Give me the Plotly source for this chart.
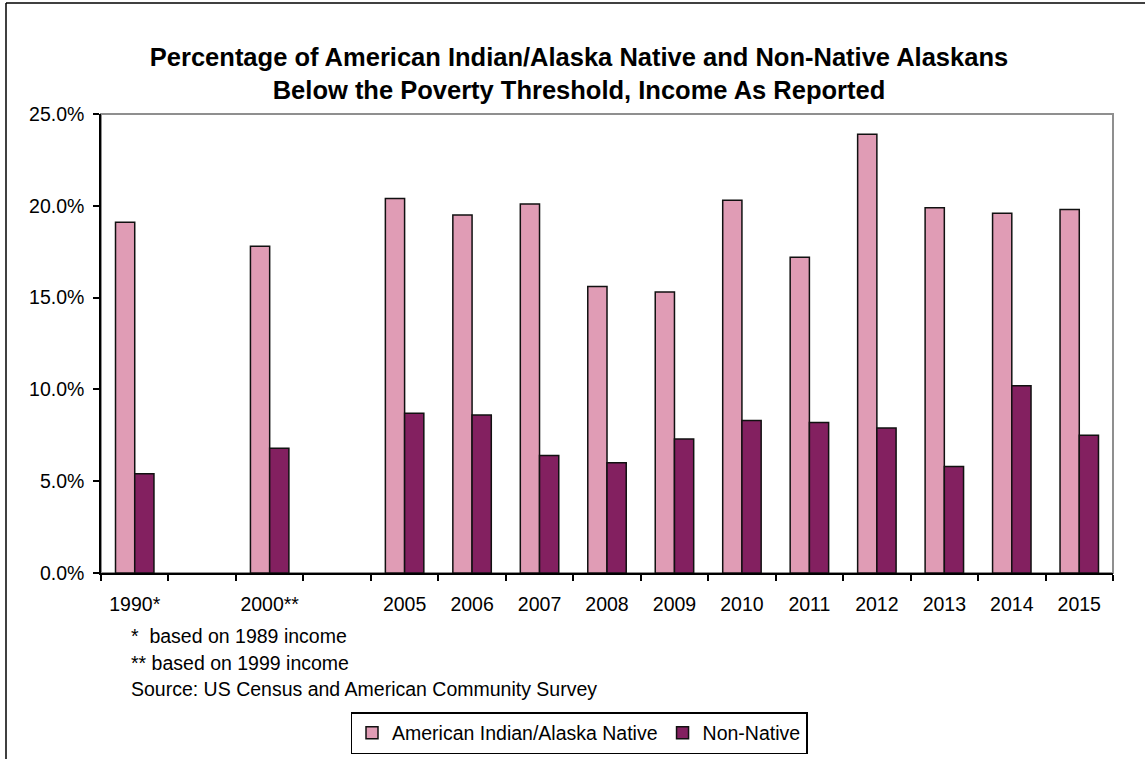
import plotly.graph_objects as go

# Category slots along the x axis (two empty slots separate the census years)
categories = ["1990*", "gap_a", "2000**", "gap_b", "2005", "2006", "2007", "2008",
              "2009", "2010", "2011", "2012", "2013", "2014", "2015"]
tick_labels = ["1990*", "", "2000**", "", "2005", "2006", "2007", "2008",
               "2009", "2010", "2011", "2012", "2013", "2014", "2015"]

# Percent below the poverty threshold
native = [19.1, None, 17.8, None, 20.4, 19.5, 20.1, 15.6, 15.3, 20.3, 17.2, 23.9, 19.9, 19.6, 19.8]
non_native = [5.4, None, 6.8, None, 8.7, 8.6, 6.4, 6.0, 7.3, 8.3, 8.2, 7.9, 5.8, 10.2, 7.5]

series_names = ["American Indian/Alaska Native", "Non-Native"]
series_colors = ["#E09CB5", "#832060"]

title_lines = ["Percentage of American Indian/Alaska Native and Non-Native Alaskans",
               "Below the Poverty Threshold, Income As Reported"]
footnotes = ["*\u00a0\u00a0based on 1989 income",
             "** based on 1999 income",
             "Source: US Census and American Community Survey"]

W, H = 1145, 759
L, R, T, B = 101, 32, 114, 186
PW, PH = W - L - R, H - T - B
FONT = "Liberation Sans, Arial, sans-serif"
FS = 19.5


def px_x(x):
    return (x - L) / PW


def px_y(y):
    return (H - B - y) / PH


fig = go.Figure()
for name, vals, col in zip(series_names, [native, non_native], series_colors):
    fig.add_trace(go.Bar(
        x=categories, y=vals, name=name,
        marker=dict(color=col, line=dict(color="#111111", width=1.5)),
    ))

annotations = []
for text, yp in zip(footnotes, [636, 663, 689]):
    annotations.append(dict(
        text=text, xref="paper", yref="paper", x=px_x(129), y=px_y(yp),
        xanchor="left", yanchor="middle", showarrow=False,
        font=dict(size=FS, color="black", family=FONT),
    ))

shapes = [
    # plot area frame (grey top/right)
    dict(type="rect", xref="paper", yref="paper", x0=0, x1=1, y0=0, y1=1,
         line=dict(color="#8f8f8f", width=2), layer="below"),
    # outer chart frame, top and left edges
    dict(type="line", xref="paper", yref="paper", x0=px_x(6), x1=px_x(W),
         y0=px_y(3), y1=px_y(3), line=dict(color="black", width=1.5)),
    dict(type="line", xref="paper", yref="paper", x0=px_x(6), x1=px_x(6),
         y0=px_y(3), y1=px_y(H), line=dict(color="black", width=1.5)),
]

fig.update_layout(
    width=W, height=H,
    margin=dict(l=L, r=R, t=T, b=B, pad=0, autoexpand=False),
    paper_bgcolor="white", plot_bgcolor="white",
    font=dict(family=FONT, size=FS, color="black"),
    title=dict(
        text="<b>" + "<br>".join(title_lines) + "</b>",
        x=579 / W, xref="container", xanchor="center",
        y=1 - 66 / H, yref="container", yanchor="top",
        font=dict(size=25.5, family=FONT, color="black"),
    ),
    barmode="group", bargap=0.43, bargroupgap=0,
    showlegend=True,
    legend=dict(
        orientation="h", xref="container", yref="container",
        x=579 / W, xanchor="center", y=1 - 712 / H, yanchor="top",
        bordercolor="black", borderwidth=1.5, bgcolor="white",
        font=dict(size=FS, family=FONT, color="black"),
        traceorder="normal",
    ),
    xaxis=dict(
        type="category", categoryorder="array", categoryarray=categories,
        tickmode="array", tickvals=categories, ticktext=tick_labels, tickangle=0,
        tickson="boundaries", ticks="outside", ticklen=6, tickwidth=1.5, tickcolor="black",
        ticklabelstandoff=13,
        showline=True, linecolor="black", linewidth=1.5, showgrid=False, zeroline=False,
        tickfont=dict(size=FS), fixedrange=True, automargin=False,
    ),
    yaxis=dict(
        range=[0, 25], tick0=0, dtick=5, tickformat=".1f", ticksuffix="%",
        ticks="outside", ticklen=6, tickwidth=1.5, tickcolor="black",
        ticklabelstandoff=5,
        showline=True, linecolor="black", linewidth=1.5, showgrid=False, zeroline=False,
        tickfont=dict(size=FS), fixedrange=True, automargin=False,
    ),
    annotations=annotations,
    shapes=shapes,
)

fig.write_html("out.html")
